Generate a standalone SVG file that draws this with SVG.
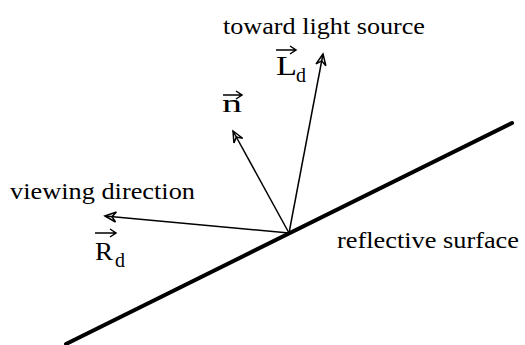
<svg xmlns="http://www.w3.org/2000/svg" width="525" height="345" viewBox="0 0 525 345">
<style>
.lbl{font-family:"Liberation Serif","Times New Roman",serif;font-size:23px;fill:#000}
.sym{font-family:"Liberation Serif","Times New Roman",serif;fill:#000}
.vec{stroke:#000;stroke-width:1.5;fill:none}
.ray{stroke:#000;stroke-width:1.5;fill:none}
</style>
<defs>
<marker id="head" markerUnits="userSpaceOnUse" markerWidth="16" markerHeight="16" refX="0" refY="0" viewBox="-12 -8 14 16" orient="auto" overflow="visible">
<path d="M0,0 L-11,-5 L-7,0 L-11,5 Z" fill="none" stroke="#000" stroke-width="1.5" stroke-linejoin="miter"/>
</marker>
</defs>
<rect width="525" height="345" fill="#fff"/>
<g id="surface">
<line x1="66" y1="344" x2="512" y2="123" stroke="#000" stroke-width="4" stroke-linecap="round"/>
<text class="lbl" x="337" y="248" textLength="182" lengthAdjust="spacingAndGlyphs">reflective surface</text>
</g>
<g id="connectors">
<line class="ray" x1="289" y1="233" x2="323" y2="54" marker-end="url(#head)"/>
<line class="ray" x1="289" y1="233" x2="233" y2="131" marker-end="url(#head)"/>
<line class="ray" x1="289" y1="233" x2="105" y2="216" marker-end="url(#head)"/>
</g>
<g id="light">
<text class="lbl" x="223" y="34" textLength="202" lengthAdjust="spacingAndGlyphs">toward light source</text>
<text class="sym" x="276" y="75" font-size="28" textLength="21" lengthAdjust="spacingAndGlyphs">L</text>
<text class="sym" x="296" y="82" font-size="20">d</text>
<path class="vec" d="M276,50 H296 M290,46 L296,50 L290,54"/>
</g>
<g id="normal">
<text class="sym" x="222" y="112" font-size="26" textLength="20" lengthAdjust="spacingAndGlyphs">n</text>
<path class="vec" d="M223,95 H242 M236,91 L242,95 L236,99"/>
</g>
<g id="view">
<text class="lbl" x="10" y="199" textLength="185" lengthAdjust="spacingAndGlyphs">viewing direction</text>
<text class="sym" x="95" y="260" font-size="26" textLength="18" lengthAdjust="spacingAndGlyphs">R</text>
<text class="sym" x="115" y="267" font-size="20">d</text>
<path class="vec" d="M95,233 H116 M110,229 L116,233 L110,237"/>
</g>
</svg>
